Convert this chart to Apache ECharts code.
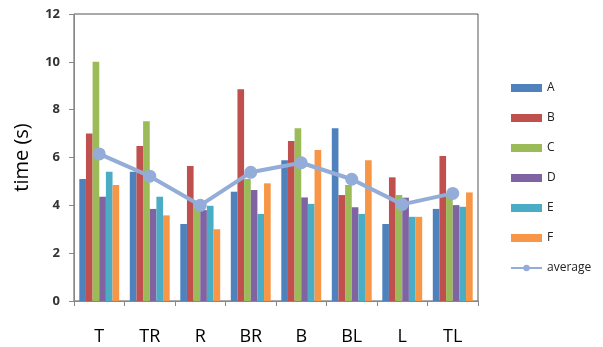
<!DOCTYPE html>
<html><head><meta charset="utf-8">
<script src="https://cdn.jsdelivr.net/npm/echarts@6/dist/echarts.min.js"></script>
<style>html,body{margin:0;padding:0;background:#fff}#c{width:603px;height:347px}</style>
</head><body><div id="c"></div>
<script>
const categories = ['T','TR','R','BR','B','BL','L','TL'];
const seriesNames = ['A','B','C','D','E','F'];
const A = [5.1, 5.4, 3.22, 4.57, 5.89, 7.22, 3.22, 3.85];
const B = [7.0, 6.48, 5.64, 8.85, 6.69, 4.43, 5.17, 6.06];
const C = [10.0, 7.52, 3.9, 5.1, 7.22, 4.85, 4.43, 4.4];
const D = [4.36, 3.85, 3.8, 4.64, 4.33, 3.92, 4.32, 4.01];
const E = [5.4, 4.36, 3.98, 3.64, 4.06, 3.64, 3.52, 3.94];
const F = [4.85, 3.58, 3.0, 4.92, 6.31, 5.89, 3.52, 4.54];
const average = [6.15, 5.22, 4.0, 5.38, 5.78, 5.09, 4.04, 4.5];
const yTicks = [0, 2, 4, 6, 8, 10, 12];

const colors = ['#4f81bd','#c0504d','#9bbb59','#8064a2','#4bacc6','#f79646'];
const values = [A,B,C,D,E,F];
const font = '"Open Sans", "Liberation Sans", sans-serif';

const series = seriesNames.map((n,i)=>({
  name:n, type:'bar', data:values[i], barGap:'0%', barCategoryGap:'21%',
  itemStyle:{color:colors[i]}
}));
series.push({
  name:'average', type:'line', data:average, symbol:'circle', symbolSize:13,
  lineStyle:{color:'#94acd8', width:4}, itemStyle:{color:'#94acd8'}, z:5
});

const chart = echarts.init(document.getElementById('c'), null, {renderer:'canvas'});
chart.setOption({
  animation:false,
  color: colors.concat(['#94acd8']),
  grid:{left:74, top:14, right:125, bottom:46, show:true, borderColor:'#555', borderWidth:1, containLabel:false},
  legend:{
    orient:'vertical', left:505, top:77, itemWidth:31, itemHeight:8, itemGap:18,
    data: seriesNames.map(n=>({name:n, icon:'rect'})).concat([{name:'average'}]),
    textStyle:{fontFamily:font, fontSize:12, color:'#222'}
  },
  xAxis:{
    type:'category', data:categories,
    axisLine:{lineStyle:{color:'#888'}},
    axisTick:{show:true, alignWithLabel:false, length:5, lineStyle:{color:'#888'}},
    axisLabel:{fontFamily:font, fontSize:18, color:'#000', margin:27}
  },
  yAxis:{
    type:'value', min:0, max:12, interval:2,
    name:'time (s)', nameLocation:'middle', nameGap:42, nameRotate:90,
    nameTextStyle:{fontFamily:font, fontSize:20, color:'#000'},
    axisLine:{show:true, lineStyle:{color:'#888'}},
    axisTick:{show:true, length:5, lineStyle:{color:'#888'}},
    splitLine:{show:false},
    axisLabel:{fontFamily:font, fontSize:13, fontWeight:'bold', color:'#333', margin:14,
      formatter:v=>yTicks.includes(v)?String(v):''}
  },
  series
});
</script>
</body></html>
